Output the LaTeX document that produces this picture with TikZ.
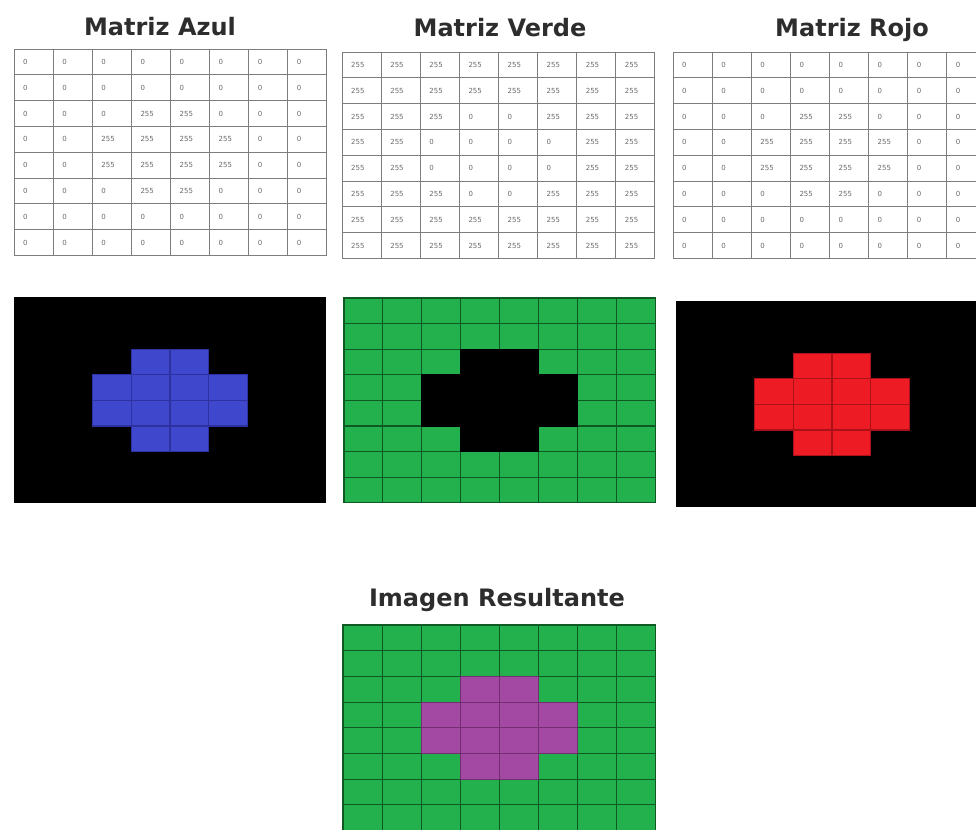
\documentclass[tikz,border=0pt]{standalone}
\usepackage{fontspec}
\setmainfont{DejaVu Sans}
\definecolor{titlegray}{RGB}{45,45,45}
\definecolor{txtgray}{RGB}{105,105,105}
\definecolor{gridgray}{RGB}{125,125,125}
\definecolor{blueC}{RGB}{63,72,204}
\definecolor{blueL}{RGB}{45,50,160}
\definecolor{greenC}{RGB}{34,177,76}
\definecolor{greenL}{RGB}{15,90,35}
\definecolor{redC}{RGB}{237,28,36}
\definecolor{redL}{RGB}{170,18,24}
\definecolor{purpleC}{RGB}{163,73,164}
\definecolor{purpleL}{RGB}{115,45,115}
% test: is cell (\r,\c) inside the cross shape?
\newcommand\myinshape{\pgfmathtruncatemacro\myins{((\r==2||\r==5)&&(\c==3||\c==4))||((\r==3||\r==4)&&(\c>=2&&\c<=5))}}
% #1 name, #2 x0, #3 y0, #4 value inside, #5 value outside
\newcommand\drawmatrix[5]{%
  \foreach \r in {0,...,7}{\foreach \c in {0,...,7}{%
    \myinshape
    \ifnum\myins=1 \def\cellval{#4}\else\def\cellval{#5}\fi
    \node[celltxt] (#1-\r-\c) at ({#2+\c*39.1+9},{#3+(\r+0.5)*25.8}) {\cellval};
  }}
  \foreach \i in {0,...,8}{%
    \draw[gridline] ({#2+\i*39.1},#3) -- ({#2+\i*39.1},{#3+8*25.8});
    \draw[gridline] (#2,{#3+\i*25.8}) -- ({#2+8*39.1},{#3+\i*25.8});
  }
}
% #1 x0, #2 y0, #3 cell w, #4 cell h, #5 bg fill, #6 bg line, #7 fg fill, #8 fg line
\newcommand\drawimg[8]{%
  \foreach \r in {0,...,7}{\foreach \c in {0,...,7}{%
    \path[fill=#5, draw=#6, pixline] ({#1+\c*#3},{#2+\r*#4}) rectangle ++(#3,#4);
  }}
  \foreach \r in {0,...,7}{\foreach \c in {0,...,7}{%
    \myinshape
    \ifnum\myins=1
      \path[fill=#7, draw=#8, pixline] ({#1+\c*#3},{#2+\r*#4}) rectangle ++(#3,#4);
    \fi
  }}
}
\begin{document}
\begin{tikzpicture}[x=1pt,y=-1pt,
  title/.style={font=\bfseries\fontsize{24}{28}\selectfont, text=titlegray, inner sep=0pt},
  celltxt/.style={font=\fontsize{7}{8}\selectfont, text=txtgray, anchor=west, inner sep=0pt},
  gridline/.style={draw=gridgray, line width=0.9pt},
  pixline/.style={line width=1.1pt},
]
\useasboundingbox (0,0) rectangle (976,829);
\clip (0,0) rectangle (976,829);
\fill[white] (0,0) rectangle (976,829);

% titles
\node[title] (tA) at (160,27) {Matriz Azul};
\node[title] (tV) at (500,28) {Matriz Verde};
\node[title] (tR) at (852,30) {Matriz Rojo};
\node[title] (tI) at (497,600) {Imagen Resultante};

% matrices
\drawmatrix{mA}{14}{49}{255}{0}
\drawmatrix{mV}{342}{52}{0}{255}
\drawmatrix{mR}{673}{52}{255}{0}

% images
\drawimg{15}{298}{38.75}{25.6}{black}{black}{blueC}{blueL}
\drawimg{344}{298}{38.9}{25.6}{greenC}{greenL}{black}{black}
\drawimg{677}{302}{38.75}{25.6}{black}{black}{redC}{redL}
\drawimg{343}{625}{39.1}{25.7}{greenC}{greenL}{purpleC}{purpleL}
\end{tikzpicture}
\end{document}
